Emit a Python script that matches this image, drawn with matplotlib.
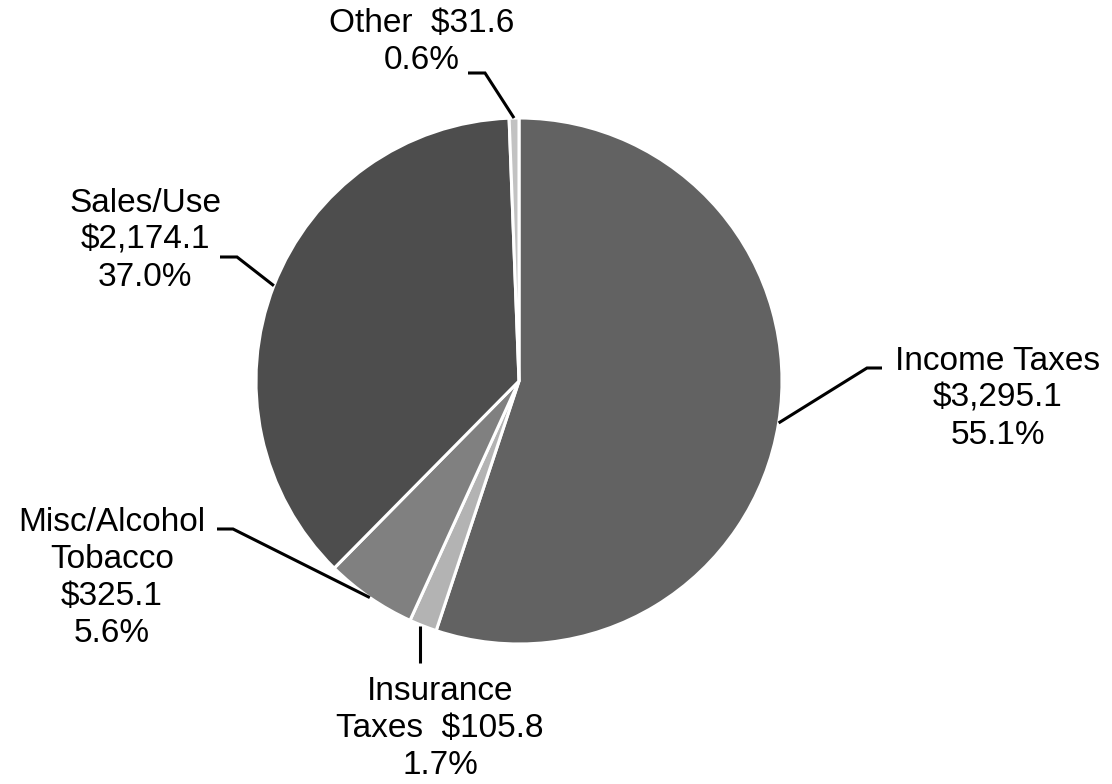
import numpy as np
import matplotlib
matplotlib.use("Agg")
import matplotlib.pyplot as plt

plt.rcParams['font.family'] = ['Liberation Sans', 'DejaVu Sans']

W, H = 1112, 784

categories = ["Income Taxes", "Insurance Taxes", "Misc/Alcohol Tobacco", "Sales/Use", "Other"]
amounts = [3295.1, 105.8, 325.1, 2174.1, 31.6]
shares = [55.1, 1.7, 5.6, 37.0, 0.6]
label_texts = [
    "Income Taxes\n$3,295.1\n55.1%",
    "Insurance\nTaxes  $105.8\n1.7%",
    "Misc/Alcohol\nTobacco\n$325.1\n5.6%",
    "Sales/Use\n$2,174.1\n37.0%",
    "Other  $31.6\n0.6%",
]
colors = ["#626262", "#b3b3b3", "#808080", "#4d4d4d", "#c2c2c2"]

# label layout in image pixels (x, y from top): text centre, elbow, end of short horizontal
# elbow x of None -> straight down from the wedge edge
text_pos = [(998, 398), (440, 728), (112, 578), (145, 240), (422, 42)]
elbows = [(867, 368), (None, 663), (233, 529), (237, 257), (485, 73)]
tails = [(882, 368), (None, 663), (217, 529), (220, 257), (468, 73)]


def fy(y):
    return H - y


cx, cy, r = 519, 381, 263

fig = plt.figure(figsize=(W / 100, H / 100), dpi=100)
ax = fig.add_axes([0, 0, 1, 1])

wedges, _ = ax.pie(shares, center=(cx, fy(cy)), radius=r, startangle=90, counterclock=False,
                   colors=colors, wedgeprops=dict(edgecolor='white', linewidth=2.2))

for w, txt, tp, el, tl in zip(wedges, label_texts, text_pos, elbows, tails):
    mid = np.deg2rad((w.theta1 + w.theta2) / 2)
    x0 = cx + r * np.cos(mid)
    y0 = fy(cy) + r * np.sin(mid)
    ex = x0 - 3 if el[0] is None else el[0]
    tx = ex if tl[0] is None else tl[0]
    if el[0] is None:
        x0 = ex
    ax.plot([x0, ex, tx], [y0, fy(el[1]), fy(tl[1])], color='black', lw=2.2,
            solid_capstyle='butt', solid_joinstyle='miter')
    ax.text(tp[0], fy(tp[1]), txt, ha='center', va='center', fontsize=24,
            linespacing=1.25, color='black')

ax.set_xlim(0, W)
ax.set_ylim(0, H)
ax.set_aspect('equal')
ax.axis('off')

fig.savefig("out.png", dpi=100)
